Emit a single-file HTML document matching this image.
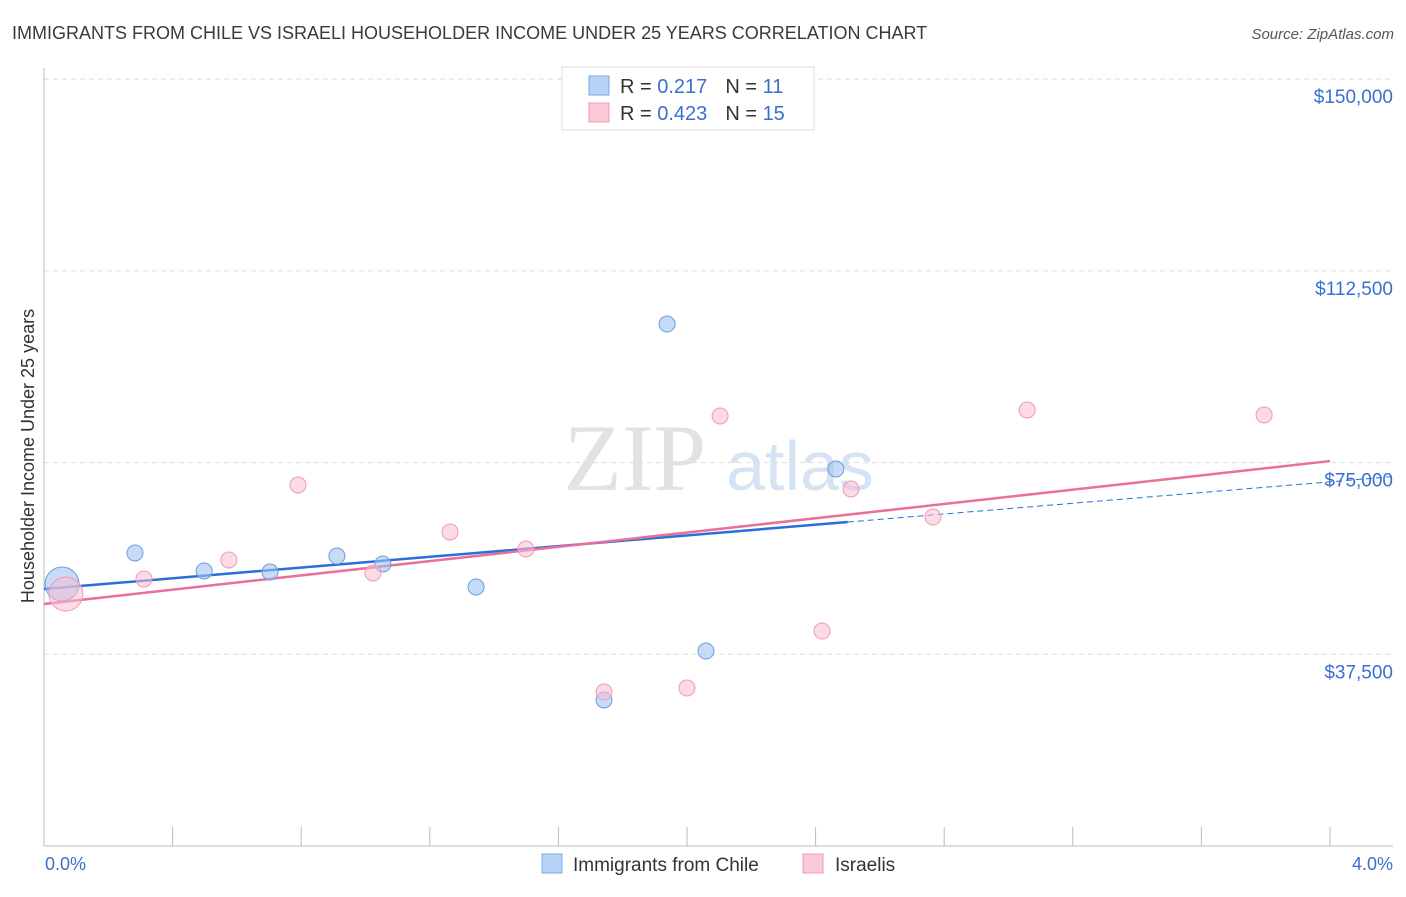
<!DOCTYPE html>
<html><head><meta charset="utf-8"><style>
body{margin:0;background:#fff;font-family:"Liberation Sans",sans-serif;}
</style></head><body>
<svg width="1406" height="892" xmlns="http://www.w3.org/2000/svg" id="chart">
<text x="12" y="39" font-size="18" fill="#3a3a3a">IMMIGRANTS FROM CHILE VS ISRAELI HOUSEHOLDER INCOME UNDER 25 YEARS CORRELATION CHART</text>
<text x="1394" y="39" font-size="15" fill="#555" font-style="italic" text-anchor="end">Source: ZipAtlas.com</text>
<g>
<text x="635" y="490" font-size="95" font-family="Liberation Serif,serif" fill="#e2e2e2" text-anchor="middle">ZIP</text>
<text x="800" y="490" font-size="70" fill="#d5e3f3" text-anchor="middle">atlas</text>
</g>
<g id="grid"></g><g id="axes"></g><g id="lines"></g><g id="points"></g>
<text x="34" y="456" font-size="18" fill="#333" text-anchor="middle" transform="rotate(-90 34 456)">Householder Income Under 25 years</text>
<text x="45" y="870" font-size="18" fill="#3a6fcf">0.0%</text>
<text x="1393" y="870" font-size="18" fill="#3a6fcf" text-anchor="end">4.0%</text>
<g>
<rect x="562" y="67" width="252" height="63" fill="#fff" stroke="#ddd"/>
<rect x="589" y="76" width="20" height="19" fill="#b8d3f7" stroke="#7aa7e6"/>
<rect x="589" y="103" width="20" height="19" fill="#fbc8d6" stroke="#f19ab3"/>
<text x="620" y="93" font-size="20" fill="#333">R = <tspan fill="#3a6fcf"> 0.217</tspan><tspan dx="18">N = </tspan><tspan fill="#3a6fcf"> 11</tspan></text>
<text x="620" y="120" font-size="20" fill="#333">R = <tspan fill="#3a6fcf">0.423</tspan><tspan dx="18">N = </tspan><tspan fill="#3a6fcf">15</tspan></text>
</g>
<g>
<rect x="542" y="854" width="20" height="19" fill="#b8d3f7" stroke="#7aa7e6"/>
<text x="573" y="871" font-size="19" fill="#333">Immigrants from Chile</text>
<rect x="803" y="854" width="20" height="19" fill="#fbc8d6" stroke="#f19ab3"/>
<text x="835" y="871" font-size="19" fill="#333">Israelis</text>
</g>
</svg>
<script>
const yTicks=[37500,75000,112500,150000];
const yTickLabels=["$37,500","$75,000","$112,500","$150,000"];
const xTicks=[0.4,0.8,1.2,1.6,2.0,2.4,2.8,3.2,3.6,4.0];
const chileX=[0.056,0.283,0.498,0.703,0.911,1.054,1.344,1.742,1.938,2.059,2.463];
const chileY=[51250,57310,53790,53590,56720,55160,50660,28560,102100,38140,73740];
const israelX=[0.068,0.311,0.575,0.790,1.023,1.263,1.499,1.742,2.000,2.103,2.420,2.510,2.765,3.058,3.795];
const israelY=[49290,52230,55940,70610,53400,61420,58090,30120,30900,84110,42050,69830,64350,85280,84300];
const chileTrend=[50270,5240];
const israelTrend=[47335,6990];
const NS="http://www.w3.org/2000/svg";
function sx(p){return 44+p/4*1286;}
function sy(v){return 846-v/195.6;}
function mk(parent,tag,attrs){const e=document.createElementNS(NS,tag);for(const k in attrs)e.setAttribute(k,attrs[k]);document.getElementById(parent).appendChild(e);return e;}
yTicks.forEach((t,i)=>{
 let g=mk('grid','line',{x1:44,x2:1393,y1:sy(t),y2:sy(t),stroke:'#ddd','stroke-dasharray':'5,4'});
 
 
 let l=mk('axes','text',{x:1393,y:sy(t)+24,'font-size':19,fill:'#3a6fcf','text-anchor':'end'});
 l.textContent=yTickLabels[i];
 
 
});
const topGrid=mk('grid','line',{x1:44,x2:1393,y1:79,y2:79,stroke:'#ddd','stroke-dasharray':'5,4'});


const yAxisLine=mk('axes','line',{x1:44,x2:44,y1:68,y2:846,stroke:'#bbb'});


const xAxisLine=mk('axes','line',{x1:44,x2:1393,y1:846,y2:846,stroke:'#bbb'});


xTicks.forEach(t=>{
 let k=mk('axes','line',{x1:sx(t),x2:sx(t),y1:827,y2:846,stroke:'#bbb'});
 
 
});
const cEnd=2.5,xMax=4.196;
const b1=mk('lines','line',{x1:sx(0),y1:sy(chileTrend[0]),x2:sx(cEnd),y2:sy(chileTrend[0]+chileTrend[1]*cEnd),stroke:'#2a6fd6','stroke-width':2.5});


const b2=mk('lines','line',{x1:sx(cEnd),y1:sy(chileTrend[0]+chileTrend[1]*cEnd),x2:sx(xMax),y2:sy(chileTrend[0]+chileTrend[1]*xMax),stroke:'#2a6fd6','stroke-width':1,'stroke-dasharray':'6,4'});


const p1=mk('lines','line',{x1:sx(0),y1:sy(israelTrend[0]),x2:sx(4),y2:sy(israelTrend[0]+israelTrend[1]*4),stroke:'#e8709a','stroke-width':2.5});


chileX.forEach((x,i)=>{
 let c=mk('points','circle',{cx:sx(x),cy:sy(chileY[i]),r:i==0?17:8,fill:'rgba(160,195,240,0.6)',stroke:'#6d9de0','stroke-width':1});
 
 
});
israelX.forEach((x,i)=>{
 let c=mk('points','circle',{cx:sx(x),cy:sy(israelY[i]),r:i==0?17:8,fill:'rgba(250,190,208,0.55)',stroke:'#ee9ab5','stroke-width':1});
 
 
});
</script>
</body></html>
